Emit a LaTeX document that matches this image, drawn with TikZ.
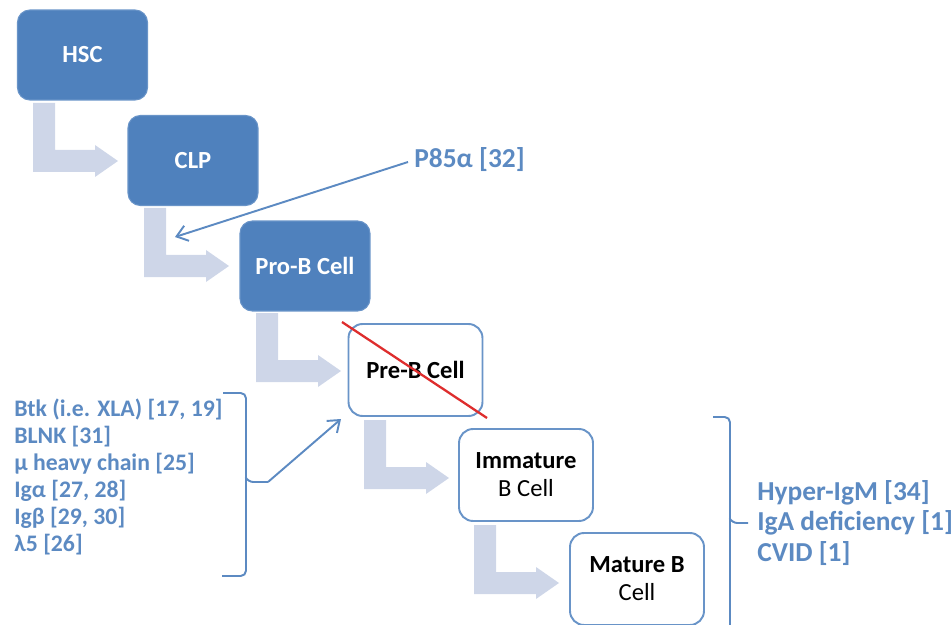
\documentclass[tikz,border=0pt]{standalone}
\usepackage{fontspec}
\setmainfont{Carlito}
\usetikzlibrary{arrows.meta}

\begin{document}
\begin{tikzpicture}[x=0.02cm,y=-0.02cm]

    % Colors for the boxes, arrows and labels
    \definecolor{cellblue}{RGB}{79,129,189}
    \definecolor{cellline}{RGB}{105,148,200}
    \definecolor{stepgrey}{RGB}{206,214,232}
    \definecolor{labelblue}{RGB}{92,138,194}
    \definecolor{crossred}{RGB}{222,45,45}

    \tikzset{
        bluecell/.style={fill=cellblue, draw=cellline, line width=0.6pt,
            rounded corners=7pt, minimum width=2.6cm, minimum height=1.8cm,
            text=white, font=\fontsize{14}{16}\selectfont\bfseries, align=center},
        whitecell/.style={fill=white, draw=cellline, line width=1.1pt,
            rounded corners=8pt, minimum width=2.68cm, minimum height=1.84cm,
            font=\fontsize{14}{16}\selectfont, align=center},
        disease/.style={text=labelblue, font=\fontsize{13.5}{15.4}\selectfont\bfseries,
            align=left, inner sep=0pt},
        bigdisease/.style={disease, font=\fontsize{15.6}{17.4}\selectfont\bfseries},
        pointer/.style={draw=labelblue, line width=1.1pt, -{Straight Barb[length=6pt,width=9pt]}}
    }

    \useasboundingbox (0,0) rectangle (951,625);

    % Bent arrows between the stages (drawn first, under the boxes)
    \foreach \l/\b in {17/100, 128/205, 240/310, 348/417, 458/522} {
        \fill[stepgrey] (\l+16,\b+3) -- ++(22,0) -- ++(0,47) -- ++(40,0) -- ++(0,-5)
            -- ++(23,16) -- ++(-23,16) -- ++(0,-5) -- ++(-62,0) -- cycle;
    }

    % Stages
    \node[bluecell] (hsc) at (82.5,55) {HSC};
    \node[bluecell] (clp) at (193,160.5) {CLP};
    \node[bluecell] (prob) at (305,266) {Pro-B Cell};
    \node[whitecell] (preb) at (415.5,370) {\textbf{Pre-B Cell}};
    \node[whitecell] (immat) at (526,475) {\textbf{Immature}\\B Cell};
    \node[whitecell] (mature) at (637,579) {\textbf{Mature B}\\Cell};

    % Pre-B block crossed out
    \coordinate (crossA) at (342,322);
    \coordinate (crossB) at (487,418);
    \draw[crossred, line width=1.3pt] (crossA) -- (crossB);

    % P85alpha defect
    \node[bigdisease, anchor=west] (p85) at (414,160) {P85α [32]};
    \coordinate (clpstep) at (175,237);
    \draw[pointer] (p85.west) ++(-6,2) -- (clpstep);

    % Pre-B defects with bracket
    \node[disease, anchor=west] (prelist) at (14,477) {Btk (i.e. XLA) [17, 19]\\BLNK [31]\\µ heavy chain [25]\\Igα [27, 28]\\Igβ [29, 30]\\λ5 [26]};
    \draw[labelblue, line width=1.1pt, rounded corners=3pt]
        (223,393) -- (246,393) -- (246,576) -- (222,576);
    \coordinate (ltip) at (268,482);
    \draw[labelblue, line width=1.1pt, rounded corners=3pt]
        (246,478) -- (248,482) -- (ltip);
    \coordinate (prebfoot) at (341,419);
    \draw[pointer] (ltip) -- (prebfoot);

    % Late defects with bracket
    \node[bigdisease, anchor=west] (latelist) at (757,523) {Hyper-IgM [34]\\IgA deficiency [1]\\CVID [1]};
    \draw[labelblue, line width=1.1pt, rounded corners=3pt]
        (713,417) -- (730,417) -- (730,640);
    \draw[labelblue, line width=1.1pt, rounded corners=3pt]
        (730,519) -- (732,523) -- (748,523);

\end{tikzpicture}
\end{document}
